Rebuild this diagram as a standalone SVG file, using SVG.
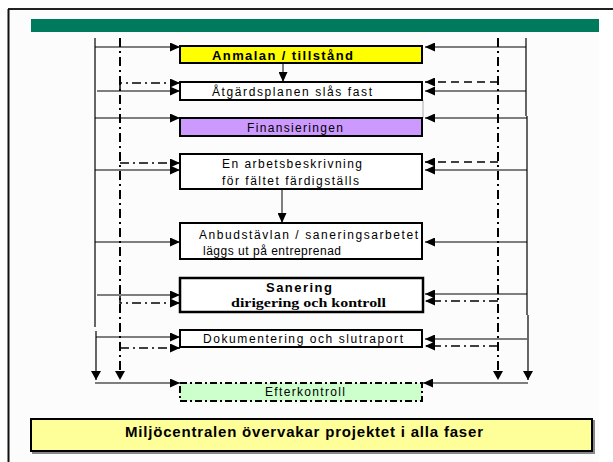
<svg xmlns="http://www.w3.org/2000/svg" width="613" height="462" viewBox="0 0 613 462">
<style>
  .box { stroke: #000; stroke-width: 2; }
  .t { font-family: "Liberation Sans", Arial, sans-serif; font-size: 12px; fill: #000; }
  .tb { font-family: "Liberation Sans", Arial, sans-serif; font-size: 13px; font-weight: bold; fill: #000; }
  .ts { font-family: "Liberation Serif", "Times New Roman", serif; font-size: 13px; font-weight: bold; fill: #000; }
  .sol { stroke: #000; stroke-width: 1; fill: none; }
  .vsol { stroke: #000; stroke-width: 1.2; fill: none; }
  .dd { stroke: #000; stroke-width: 1.5; fill: none; stroke-dasharray: 9 4 2 4; }
  .vdd { stroke: #000; stroke-width: 2; fill: none; stroke-dasharray: 9 4 2 4; }
  .da { stroke: #000; stroke-width: 1.5; fill: none; stroke-dasharray: 8 5; }
</style>
<defs>
  <marker id="ah" markerUnits="userSpaceOnUse" markerWidth="11" markerHeight="9" refX="10" refY="4.5" orient="auto">
    <path d="M0,0 L10,4.5 L0,9 z" fill="#000"/>
  </marker>
  <marker id="ahd" markerUnits="userSpaceOnUse" markerWidth="11" markerHeight="11" refX="9" refY="5" orient="auto">
    <path d="M0,0 L9,5 L0,10 z" fill="#000"/>
  </marker>
</defs>
<rect x="0" y="0" width="613" height="462" fill="#ffffff"/>
<rect x="9" y="10" width="590" height="452" fill="#fcfcfc"/>
<g id="frame">
  <line x1="8" y1="9" x2="613" y2="9" stroke="#222" stroke-width="2"/>
  <line x1="8.5" y1="9" x2="8.5" y2="462" stroke="#111" stroke-width="2"/>
  <rect x="31" y="19" width="568" height="13" fill="#007a5c"/>
</g>
<g id="connectors">
  <line class="vsol" x1="95" y1="38" x2="95" y2="327"/>
  <line class="vsol" x1="96" y1="331" x2="96" y2="380" marker-end="url(#ahd)"/>
  <line class="vdd" x1="120" y1="38" x2="120" y2="380" marker-end="url(#ahd)"/>
  <line class="vsol" x1="526" y1="38" x2="526" y2="116"/>
  <line class="vsol" x1="527" y1="116" x2="527" y2="315"/>
  <line class="vsol" x1="528" y1="315" x2="528" y2="380" marker-end="url(#ahd)"/>
  <line class="vdd" x1="498" y1="38" x2="498" y2="380" marker-end="url(#ahd)"/>

  <line class="sol" x1="95" y1="47" x2="180" y2="47" marker-end="url(#ah)"/>
  <line class="sol" x1="97" y1="91" x2="180" y2="91" marker-end="url(#ah)"/>
  <line class="sol" x1="95" y1="118" x2="180" y2="118" marker-end="url(#ah)"/>
  <line class="sol" x1="95" y1="170" x2="180" y2="170" marker-end="url(#ah)"/>
  <line class="sol" x1="95" y1="242" x2="180" y2="242" marker-end="url(#ah)"/>
  <line class="sol" x1="97" y1="295" x2="180" y2="295" marker-end="url(#ah)"/>
  <line class="sol" x1="96" y1="337" x2="180" y2="337" marker-end="url(#ah)"/>
  <line class="sol" x1="95" y1="383" x2="180" y2="383" marker-end="url(#ah)"/>

  <polyline class="dd" points="120,90 120,83 180,83" marker-end="url(#ah)"/>
  <line class="dd" x1="120" y1="163" x2="180" y2="163" marker-end="url(#ah)"/>
  <polyline class="dd" points="120,296 120,303 180,303" marker-end="url(#ah)"/>
  <line class="dd" x1="120" y1="348" x2="180" y2="348" marker-end="url(#ah)"/>

  <line class="sol" x1="526" y1="47" x2="425" y2="47" marker-end="url(#ah)"/>
  <line class="sol" x1="526" y1="91" x2="425" y2="91" marker-end="url(#ah)"/>
  <line class="sol" x1="527" y1="118" x2="425" y2="118" marker-end="url(#ah)"/>
  <line class="sol" x1="527" y1="170" x2="425" y2="170" marker-end="url(#ah)"/>
  <line class="sol" x1="527" y1="242" x2="425" y2="242" marker-end="url(#ah)"/>
  <line class="sol" x1="527" y1="294" x2="425" y2="294" marker-end="url(#ah)"/>
  <line class="sol" x1="527" y1="339" x2="425" y2="339" marker-end="url(#ah)"/>
  <line class="sol" x1="528" y1="383" x2="423" y2="383" marker-end="url(#ah)"/>

  <line class="da" x1="498" y1="82" x2="425" y2="82" marker-end="url(#ah)"/>
  <line class="da" x1="498" y1="162" x2="425" y2="162" marker-end="url(#ah)"/>
  <line class="dd" x1="498" y1="301" x2="425" y2="301" marker-end="url(#ah)"/>
  <line class="dd" x1="498" y1="346" x2="425" y2="346" marker-end="url(#ah)"/>

  <line class="sol" x1="283" y1="64" x2="283" y2="82" marker-end="url(#ah)"/>
  <line class="sol" x1="282" y1="190" x2="282" y2="223" marker-end="url(#ah)"/>
  <line x1="423" y1="100" x2="423" y2="118" stroke="#aaa" stroke-width="1"/>
</g>
<g id="n1">
  <rect class="box" x="180" y="46" width="242" height="17" fill="#ffff00"/>
  <text class="tb" x="212" y="60" textLength="141" lengthAdjust="spacing">Anmalan / tillstånd</text>
</g>
<g id="n2">
  <rect class="box" x="180" y="82" width="242" height="18" fill="#ffffff"/>
  <text class="t" x="212" y="96" textLength="160" lengthAdjust="spacing">Åtgärdsplanen slås fast</text>
</g>
<g id="n3">
  <rect class="box" x="180" y="118" width="242" height="18" fill="#cc99ff"/>
  <text class="t" x="247" y="132" textLength="96" lengthAdjust="spacing">Finansieringen</text>
</g>
<g id="n4">
  <rect class="box" x="180" y="154" width="242" height="35" fill="#ffffff"/>
  <text class="t" x="222" y="168" textLength="140" lengthAdjust="spacing">En arbetsbeskrivning</text>
  <text class="t" x="222" y="185" textLength="137" lengthAdjust="spacing">för  fältet färdigställs</text>
</g>
<g id="n5">
  <rect class="box" x="180" y="223" width="242" height="36" fill="#ffffff"/>
  <text class="t" x="199" y="239" textLength="219" lengthAdjust="spacing">Anbudstävlan / saneringsarbetet</text>
  <text class="t" x="203" y="255" textLength="138" lengthAdjust="spacing">läggs ut på entreprenad</text>
</g>
<g id="n6">
  <rect x="180" y="278" width="243" height="34" fill="#ffffff" stroke="#000" stroke-width="2.5"/>
  <text class="tb" x="266" y="292" textLength="66" lengthAdjust="spacing">Sanering</text>
  <text class="ts" x="231" y="307" textLength="155" lengthAdjust="spacingAndGlyphs">dirigering och kontroll</text>
</g>
<g id="n7">
  <rect class="box" x="180" y="330" width="242" height="17" fill="#ffffff"/>
  <text class="t" x="203" y="343" textLength="200" lengthAdjust="spacing">Dokumentering och slutraport</text>
</g>
<g id="n8">
  <rect x="180" y="383" width="242" height="18" fill="#ccffcc" stroke="#000" stroke-width="2" stroke-dasharray="7 3 2 3"/>
  <text class="t" x="265" y="396" textLength="80" lengthAdjust="spacing">Efterkontroll</text>
</g>
<g id="n9">
  <rect x="33" y="421" width="561" height="32" fill="none" stroke="#888" stroke-width="2"/>
  <rect x="31" y="419" width="561" height="32" fill="#ffff99" stroke="#000" stroke-width="2"/>
  <text x="125" y="437" font-family="'Liberation Sans', Arial, sans-serif" font-size="15" font-weight="bold" fill="#000" textLength="358" lengthAdjust="spacing">Miljöcentralen övervakar projektet i alla faser</text>
</g>
</svg>
